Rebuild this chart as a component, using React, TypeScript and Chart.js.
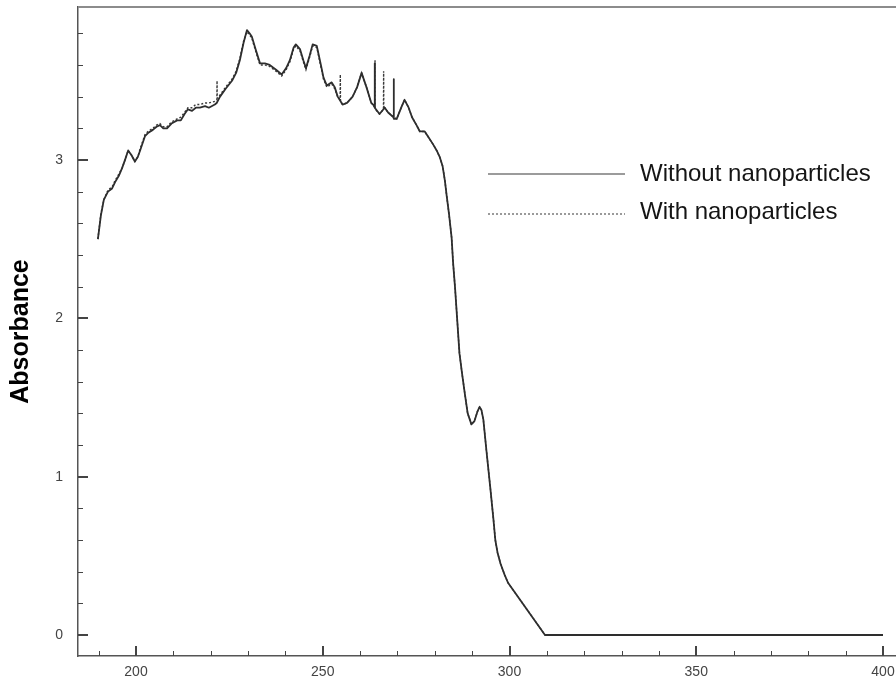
import React, { useEffect, useRef } from "react";
import { Chart, registerables } from "chart.js";

Chart.register(...registerables);

// ---- Data ----
const seriesLabels = ["Without nanoparticles", "With nanoparticles"];

const wavelengthsWithout = [
  189.8, 190.6, 191.4, 192.5, 193.6, 194.4, 195.4, 196.3, 197.2, 197.9,
  198.8, 199.7, 200.5, 201.1, 202.4, 203.2, 204.5, 205.5, 206.4, 207.3,
  208.3, 209.5, 211.0, 212.0, 213.0, 213.9, 215.0, 216.0, 217.1, 218.5,
  219.5, 221.1, 221.6, 222.5, 224.0, 225.7, 226.8, 227.8, 228.8, 229.7,
  230.4, 231.0, 232.0, 233.2, 234.5, 235.8, 237.5, 239.0, 240.2, 241.2,
  242.2, 242.8, 243.9, 244.8, 245.5, 246.5, 247.3, 248.4, 249.5, 250.2,
  251.1, 252.4, 253.2, 254.0, 255.3, 256.5, 258.0, 259.2, 260.4, 261.7,
  263.0, 263.85, 263.9, 263.95, 265.2, 266.6, 267.5, 268.95, 269.0, 269.05,
  269.8, 271.0, 271.9, 273.0, 273.9, 275.1, 276.0, 277.3, 278.4, 279.5,
  280.5, 281.3, 282.1, 282.7, 283.2, 283.8, 284.5, 284.9, 285.4, 286.0,
  286.6, 287.3, 288.0, 288.8, 289.8, 290.6, 291.4, 292.0, 292.5, 293.0,
  293.8, 294.9, 295.7, 296.2, 296.8, 297.6, 298.7, 299.6, 309.5, 400.0,
];
const absorbanceWithout = [
  2.50, 2.65, 2.75, 2.80, 2.82, 2.86, 2.90, 2.95, 3.01, 3.06,
  3.03, 2.99, 3.02, 3.06, 3.15, 3.17, 3.19, 3.21, 3.22, 3.20,
  3.20, 3.23, 3.25, 3.25, 3.29, 3.32, 3.31, 3.33, 3.33, 3.34,
  3.33, 3.35, 3.36, 3.40, 3.45, 3.50, 3.55, 3.63, 3.74, 3.82,
  3.80, 3.78, 3.70, 3.61, 3.61, 3.60, 3.57, 3.54, 3.58, 3.63,
  3.71, 3.73, 3.70, 3.63, 3.58, 3.66, 3.73, 3.72, 3.60, 3.52,
  3.47, 3.49, 3.46, 3.40, 3.35, 3.36, 3.40, 3.46, 3.55, 3.46,
  3.36, 3.34, 3.61, 3.33, 3.29, 3.33, 3.30, 3.27, 3.51, 3.26,
  3.26, 3.33, 3.38, 3.33, 3.27, 3.22, 3.18, 3.18, 3.14, 3.10,
  3.06, 3.02, 2.96, 2.87, 2.77, 2.66, 2.51, 2.35, 2.20, 1.99,
  1.78, 1.65, 1.53, 1.40, 1.33, 1.35, 1.41, 1.44, 1.42, 1.36,
  1.17, 0.92, 0.73, 0.60, 0.52, 0.45, 0.38, 0.33, 0.00, 0.00,
];

const wavelengthsWith = [
  189.8, 190.6, 191.4, 192.5, 193.6, 194.4, 195.4, 196.3, 197.2, 197.9,
  198.8, 199.7, 200.5, 201.1, 202.4, 203.2, 204.5, 205.5, 206.4, 207.3,
  208.3, 209.5, 211.0, 212.0, 213.0, 213.9, 215.0, 216.0, 217.1, 218.5,
  219.5, 221.1, 221.65, 221.7, 221.75, 222.5, 224.0, 225.7, 226.8, 227.8,
  228.8, 229.7, 230.4, 231.0, 232.0, 233.2, 234.5, 235.8, 237.5, 239.0,
  240.2, 241.2, 242.2, 242.8, 243.9, 244.8, 245.5, 246.5, 247.3, 248.4,
  249.5, 250.2, 251.1, 252.4, 253.2, 254.0, 254.65, 254.7, 254.75, 255.3,
  256.5, 258.0, 259.2, 260.4, 261.7, 263.0, 263.95, 264.0, 264.05, 265.2,
  266.25, 266.3, 266.35, 266.6, 267.5, 269.0, 269.8, 271.0, 271.9, 273.0,
  273.9, 275.1, 276.0, 277.3, 278.4, 279.5, 280.5, 281.3, 282.1, 282.7,
  283.2, 283.8, 284.5, 284.9, 285.4, 286.0, 286.6, 287.3, 288.0, 288.8,
  289.8, 290.6, 291.4, 292.0, 292.5, 293.0, 293.8, 294.9, 295.7, 296.2,
  296.8, 297.6, 298.7, 299.6, 309.5, 400.0,
];
const absorbanceWith = [
  2.50, 2.66, 2.75, 2.81, 2.83, 2.87, 2.91, 2.95, 3.01, 3.06,
  3.03, 2.99, 3.02, 3.07, 3.16, 3.18, 3.20, 3.22, 3.23, 3.21,
  3.21, 3.24, 3.26, 3.27, 3.30, 3.33, 3.33, 3.35, 3.35, 3.36,
  3.36, 3.37, 3.38, 3.50, 3.39, 3.41, 3.46, 3.51, 3.56, 3.64,
  3.75, 3.81, 3.79, 3.77, 3.69, 3.60, 3.60, 3.59, 3.56, 3.53,
  3.57, 3.62, 3.70, 3.72, 3.69, 3.62, 3.57, 3.65, 3.72, 3.71,
  3.59, 3.51, 3.46, 3.48, 3.45, 3.40, 3.38, 3.54, 3.37, 3.35,
  3.36, 3.40, 3.46, 3.55, 3.46, 3.36, 3.33, 3.63, 3.32, 3.29,
  3.32, 3.56, 3.32, 3.33, 3.30, 3.27, 3.26, 3.33, 3.38, 3.33,
  3.27, 3.22, 3.18, 3.18, 3.14, 3.10, 3.06, 3.02, 2.96, 2.87,
  2.77, 2.66, 2.51, 2.35, 2.20, 1.99, 1.78, 1.65, 1.53, 1.40,
  1.33, 1.35, 1.41, 1.44, 1.42, 1.36, 1.17, 0.92, 0.73, 0.60,
  0.52, 0.45, 0.38, 0.33, 0.00, 0.00,
];

const xMajorTicks = [200, 250, 300, 350, 400];
const xMinorTicks = [190, 210, 220, 230, 240, 260, 270, 280, 290, 310, 320, 330, 340, 360, 370, 380, 390];
const yMajorTicks = [0, 1, 2, 3];
const yMinorTicks = [0.2, 0.4, 0.6, 0.8, 1.2, 1.4, 1.6, 1.8, 2.2, 2.4, 2.6, 2.8, 3.2, 3.4, 3.6, 3.8];

const yTitle = "Absorbance";

const FONT = "'Liberation Sans', Arial, Helvetica, sans-serif";

const toPoints = (xs: number[], ys: number[]) => xs.map((x, i) => ({ x, y: ys[i] }));

const framePlugin = {
  id: "frameAndTicks",
  afterDatasetsDraw(chart: any) {
    const { ctx, chartArea, scales } = chart;
    const xs = scales.x;
    const ys = scales.y;
    ctx.save();
    ctx.strokeStyle = "#8c8c8c";
    ctx.lineWidth = 2;
    ctx.beginPath();
    ctx.moveTo(chartArea.left, chartArea.top);
    ctx.lineTo(chartArea.right, chartArea.top);
    ctx.stroke();
    ctx.strokeStyle = "#444";
    const tick = (x1: number, y1: number, x2: number, y2: number, w: number) => {
      ctx.lineWidth = w;
      ctx.beginPath();
      ctx.moveTo(x1, y1);
      ctx.lineTo(x2, y2);
      ctx.stroke();
    };
    const b = chartArea.bottom;
    const l = chartArea.left;
    xMajorTicks.forEach((v) => {
      const px = Math.round(xs.getPixelForValue(v));
      tick(px, b, px, b - 10, 2);
    });
    xMinorTicks.forEach((v) => {
      const px = Math.round(xs.getPixelForValue(v)) + 0.5;
      tick(px, b, px, b - 5, 1);
    });
    yMajorTicks.forEach((v) => {
      const py = Math.round(ys.getPixelForValue(v));
      tick(l, py, l + 10, py, 2);
    });
    yMinorTicks.forEach((v) => {
      const py = Math.round(ys.getPixelForValue(v)) + 0.5;
      tick(l, py, l + 5, py, 1);
    });
    ctx.restore();
  },
};

const legendPlugin = {
  id: "customLegend",
  afterDraw(chart: any) {
    const { ctx } = chart;
    const rows = [
      { label: chart.data.datasets[0].label, lineY: 174, textY: 174, dash: [] as number[] },
      { label: chart.data.datasets[1].label, lineY: 214, textY: 212, dash: [2, 2] },
    ];
    ctx.save();
    rows.forEach((r) => {
      ctx.strokeStyle = "#7a7a7a";
      ctx.lineWidth = 1.5;
      ctx.setLineDash(r.dash);
      ctx.beginPath();
      ctx.moveTo(488, r.lineY);
      ctx.lineTo(625, r.lineY);
      ctx.stroke();
      ctx.setLineDash([]);
      ctx.fillStyle = "#151515";
      ctx.font = `24px ${FONT}`;
      ctx.textAlign = "left";
      ctx.textBaseline = "middle";
      ctx.fillText(r.label, 640, r.textY);
    });
    ctx.restore();
  },
};

export default function App() {
  const canvasRef = useRef<HTMLCanvasElement | null>(null);

  useEffect(() => {
    if (!canvasRef.current) return;
    const chart = new Chart(canvasRef.current, {
      type: "line",
      data: {
        datasets: [
          {
            label: seriesLabels[0],
            data: toPoints(wavelengthsWithout, absorbanceWithout),
            borderColor: "#2e2e2e",
            borderWidth: 1.8,
            pointRadius: 0,
            tension: 0,
            borderJoinStyle: "round",
          },
          {
            label: seriesLabels[1],
            data: toPoints(wavelengthsWith, absorbanceWith),
            borderColor: "#3a3a3a",
            borderWidth: 1.4,
            borderDash: [2, 2],
            pointRadius: 0,
            tension: 0,
          },
        ],
      },
      options: {
        responsive: false,
        animation: false,
        devicePixelRatio: 1,
        layout: { padding: { top: 7, right: 0, left: 0, bottom: 0 } },
        plugins: {
          legend: { display: false },
          tooltip: { enabled: false },
        },
        scales: {
          x: {
            type: "linear",
            min: 184.47,
            max: 403.48,
            grid: { display: false, drawTicks: false },
            border: { display: true, color: "#555", width: 1.5 },
            afterBuildTicks: (scale: any) => {
              scale.ticks = xMajorTicks.map((v) => ({ value: v }));
            },
            afterFit: (scale: any) => {
              scale.height = 26;
              scale.paddingLeft = 0;
              scale.paddingRight = 0;
            },
            ticks: {
              padding: 8,
              color: "#444",
              font: { family: FONT, size: 14 },
              maxRotation: 0,
              autoSkip: false,
              callback: (v: any) => String(v),
            },
          },
          y: {
            type: "linear",
            min: -0.1326,
            max: 3.966,
            grid: { display: false, drawTicks: false },
            border: { display: true, color: "#555", width: 1.5 },
            afterBuildTicks: (scale: any) => {
              scale.ticks = yMajorTicks.map((v) => ({ value: v }));
            },
            afterFit: (scale: any) => {
              scale.width = 78;
              scale.paddingTop = 0;
              scale.paddingBottom = 0;
            },
            ticks: {
              padding: 15,
              color: "#444",
              font: { family: FONT, size: 14 },
              callback: (v: any) => String(v),
            },
            title: {
              display: true,
              text: yTitle,
              color: "#000",
              font: { family: FONT, size: 25, weight: "bold" },
              padding: { top: 6, bottom: 0 },
            },
          },
        },
      },
      plugins: [framePlugin, legendPlugin],
    });
    return () => chart.destroy();
  }, []);

  return (
    <div style={{ position: "fixed", left: 0, top: 0, width: 896, height: 682, background: "#fff" }}>
      <canvas ref={canvasRef} width={896} height={682} style={{ display: "block" }} />
    </div>
  );
}
